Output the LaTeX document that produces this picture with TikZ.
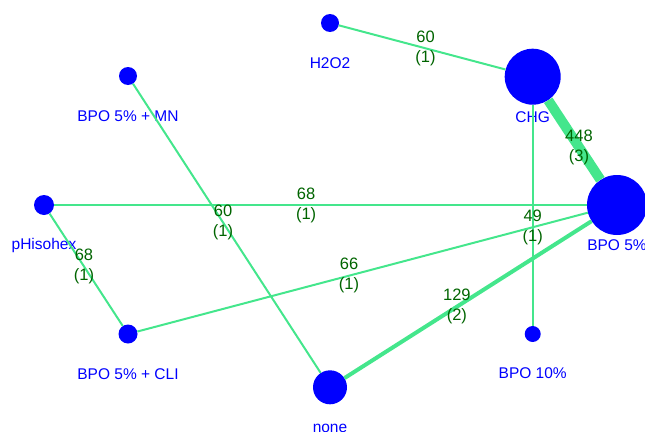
\documentclass[tikz,border=0pt]{standalone}
\usepackage{fontspec}
\setmainfont{Liberation Sans}
\definecolor{edgegreen}{RGB}{68,230,140}
\definecolor{numgreen}{RGB}{0,100,0}
\definecolor{nodeblue}{RGB}{0,0,255}
\tikzset{
  trt/.style={circle, fill=nodeblue, inner sep=0pt, minimum size=#1},
  trtname/.style={text=nodeblue, font=\fontsize{15.5}{18}\selectfont, inner sep=0pt},
  link/.style={draw=edgegreen, line width=#1},
  cnt/.style={text=numgreen, font=\fontsize{16.5}{20}\selectfont, align=center, inner sep=0pt}
}

\begin{document}
\begin{tikzpicture}[x=1pt, y=-1pt]
\clip (0,0) rectangle (645,431);

% treatments
\node[trt=18pt] (h2o2) at (330,23) {};
\node[trt=56pt] (chg) at (532.7,76.7) {};
\node[trt=60pt] (bpo5) at (617,205) {};
\node[trt=16pt] (bpo10) at (532.7,334) {};
\node[trt=34pt] (none) at (330,387.3) {};
\node[trt=19pt] (cli) at (128,334) {};
\node[trt=20pt] (phiso) at (44,205) {};
\node[trt=18pt] (mn) at (128,76) {};

\node[trtname] at (330,63) {H2O2};
\node[trtname] at (532.7,116.7) {CHG};
\node[trtname] at (617,245) {BPO 5\%};
\node[trtname] at (532.7,373.5) {BPO 10\%};
\node[trtname] at (330,428) {none};
\node[trtname] at (128,374) {BPO 5\% + CLI};
\node[trtname] at (44,245.5) {pHisohex};
\node[trtname] at (128,116) {BPO 5\% + MN};

% comparisons
\draw[link=2pt] (h2o2) -- (chg) node[cnt, pos=0.52] {60\\(1)};
\draw[link=10pt] (chg) -- (bpo5) node[cnt, pos=0.59] {448\\(3)};
\draw[link=2pt] (phiso) -- (bpo5) node[cnt, pos=0.473] {68\\(1)};
\draw[link=2pt] (chg) -- (bpo10) node[cnt, pos=0.557] {49\\(1)};
\draw[link=2pt] (mn) -- (none) node[cnt, pos=0.48] {60\\(1)};
\draw[link=2pt] (phiso) -- (cli) node[cnt, pos=0.47] {68\\(1)};
\draw[link=2pt] (cli) -- (bpo5) node[cnt, pos=0.47] {66\\(1)};
\draw[link=4pt] (none) -- (bpo5) node[cnt, pos=0.455] {129\\(2)};

\end{tikzpicture}
\end{document}
